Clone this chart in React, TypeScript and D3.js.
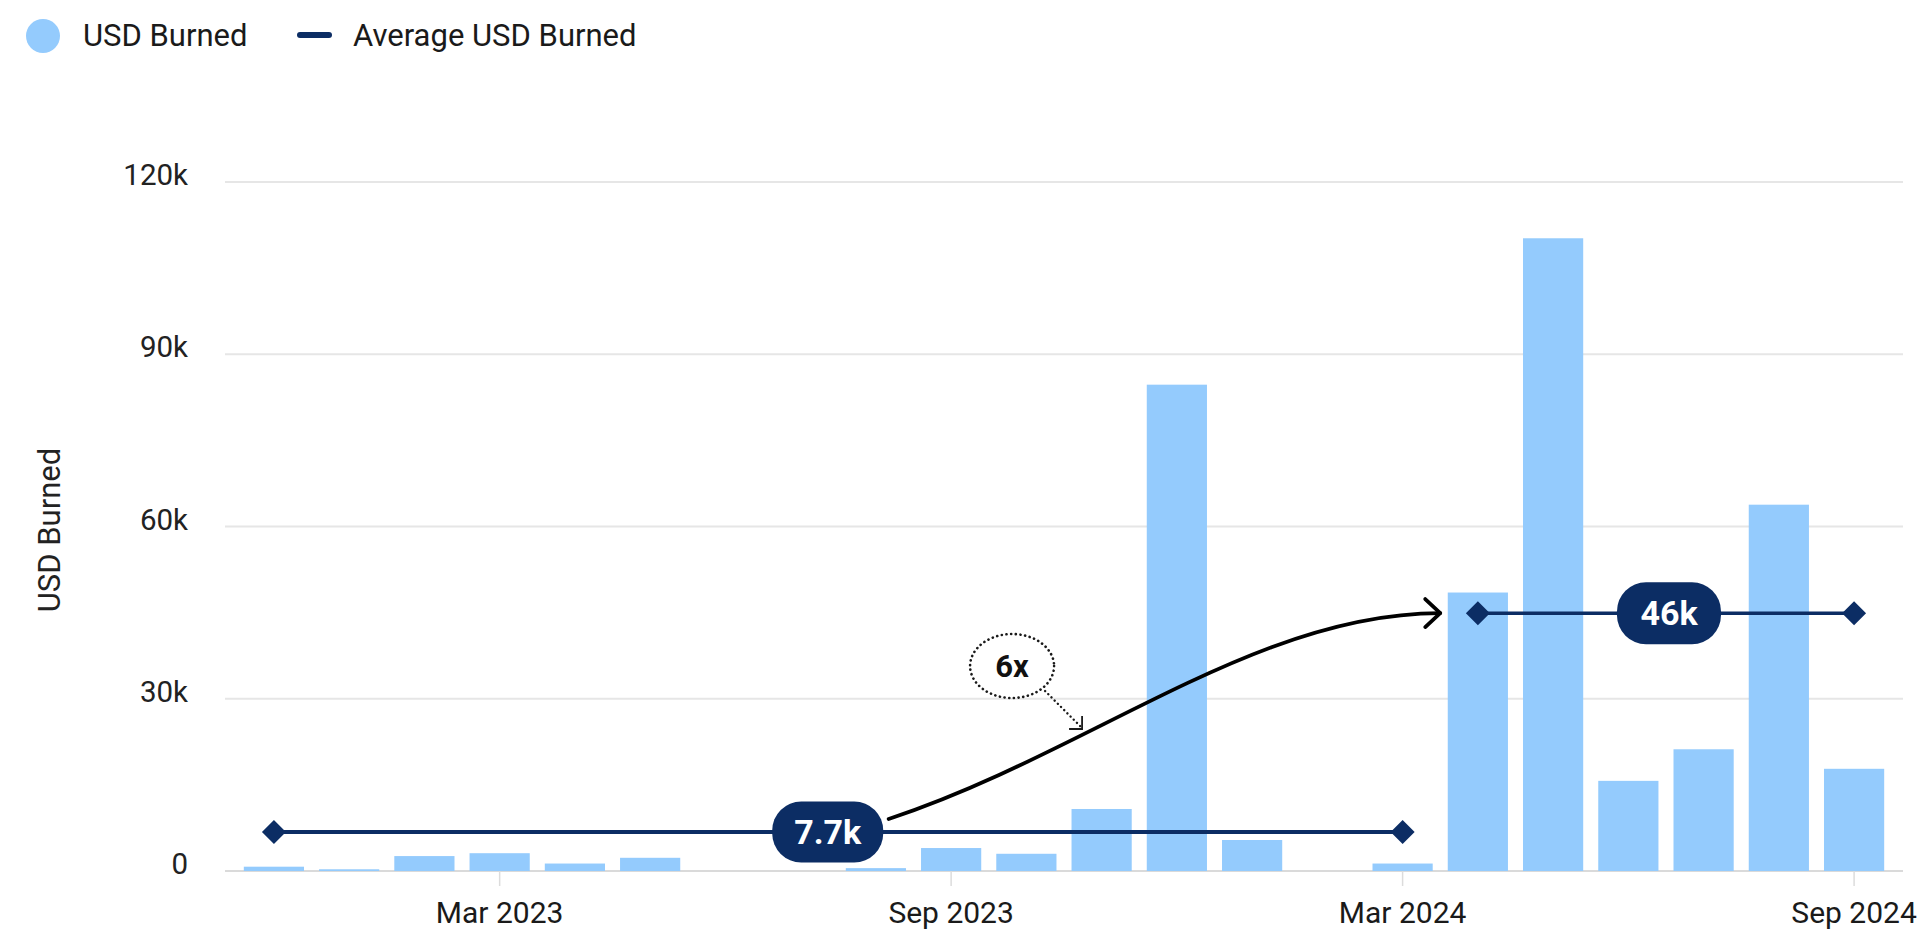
import React from "react";
import * as d3 from "d3";

const months = [
  "2022-12", "2023-01", "2023-02", "2023-03", "2023-04", "2023-05", "2023-06", "2023-07",
  "2023-08", "2023-09", "2023-10", "2023-11", "2023-12", "2024-01", "2024-02", "2024-03",
  "2024-04", "2024-05", "2024-06", "2024-07", "2024-08", "2024-09",
];
const usdBurned = [
  750, 300, 2600, 3100, 1300, 2300, 0, 0,
  500, 4000, 3000, 10800, 84700, 5400, 0, 1300,
  48500, 110200, 15700, 21200, 63800, 17800,
];
const yTicks = [0, 30000, 60000, 90000, 120000];
const xTickMonths = ["2023-03", "2023-09", "2024-03", "2024-09"];
const xTickLabels = ["Mar 2023", "Sep 2023", "Mar 2024", "Sep 2024"];

const avgStart = ["2022-12", "2024-04"];
const avgEnd = ["2024-03", "2024-09"];
const avgLineValue = [6800, 44900];
const avgLabels = ["7.7k", "46k"];
const ratioLabel = "6x";

const BAR = "#94cbfd";
const NAVY = "#0c2d64";
const FONT = "Roboto, 'Noto Sans', sans-serif";

export default function App() {
  const W = 1926;
  const H = 932;
  const x = d3
    .scaleBand<string>()
    .domain(months)
    .range([225, 1903])
    .paddingInner(0.2)
    .paddingOuter(0.25);
  const y = d3.scaleLinear().domain([0, 120000]).range([871, 182]);
  const bw = x.bandwidth();
  const step = x.step();
  const cx = (m: string) => (x(m) as number) + bw / 2;
  const fx = (i: number) => cx(months[0]) + i * step;
  const fmt = (v: number) => (v === 0 ? "0" : `${v / 1000}k`);

  // annotation anchors (month index, value)
  const pillPos = [7.36, 18.54];
  const pillW = [111, 104];
  const pillH = [61, 62];

  const p0 = [fx(8.17), y(9060)];
  const p1 = [fx(10.83), y(20550)];
  const p2 = [fx(13.04), y(44930)];
  const p3 = [fx(15.5), y(44930)];
  const curve = `M${p0[0]},${p0[1]} C${p1[0]},${p1[1]} ${p2[0]},${p2[1]} ${p3[0]},${p3[1]}`;
  const head = `M${p3[0] - 15},${p3[1] - 14} L${p3[0]},${p3[1]} L${p3[0] - 15},${p3[1] + 14}`;

  const ex = fx(9.81);
  const ey = y(35700);

  const diamond = (px: number, py: number, r = 12) =>
    `M${px},${py - r} L${px + r},${py} L${px},${py + r} L${px - r},${py} Z`;

  return (
    <svg
      width={W}
      height={H}
      style={{ position: "absolute", left: 0, top: 0, background: "#fff" }}
      fontFamily={FONT}
    >
      {/* legend */}
      <circle cx={43} cy={36} r={17} fill={BAR} />
      <text x={83} y={46} fontSize={31} fill="#1a1a1a">USD Burned</text>
      <line x1={300} x2={329} y1={35} y2={35} stroke={NAVY} strokeWidth={6} strokeLinecap="round" />
      <text x={353} y={46} fontSize={31} fill="#1a1a1a">Average USD Burned</text>

      {/* grid */}
      {yTicks.map((t) => (
        <g key={t}>
          <line
            x1={225}
            x2={1903}
            y1={y(t)}
            y2={y(t)}
            stroke={t === 0 ? "#dadada" : "#e6e6e6"}
            strokeWidth={2}
          />
          <text x={188} y={y(t) + 3} fontSize={29.5} textAnchor="end" fill="#222">
            {fmt(t)}
          </text>
        </g>
      ))}

      {/* y title */}
      <text
        transform={`translate(49,530) rotate(-90)`}
        textAnchor="middle"
        dy="0.35em"
        fontSize={31}
        fill="#222"
      >
        USD Burned
      </text>

      {/* x ticks */}
      {xTickMonths.map((m, i) => (
        <g key={m}>
          <line x1={cx(m)} x2={cx(m)} y1={y(0)} y2={y(0) + 15} stroke="#dcdcdc" strokeWidth={1.5} />
          <text x={cx(m)} y={923} fontSize={30} textAnchor="middle" fill="#1a1a1a">
            {xTickLabels[i]}
          </text>
        </g>
      ))}

      {/* bars */}
      {months.map((m, i) =>
        usdBurned[i] > 0 ? (
          <rect
            key={m}
            x={x(m)}
            y={y(usdBurned[i])}
            width={bw}
            height={y(0) - y(usdBurned[i])}
            fill={BAR}
          />
        ) : null
      )}

      {/* average lines */}
      {avgStart.map((s, i) => {
        const x1 = cx(s);
        const x2 = cx(avgEnd[i]);
        const yy = y(avgLineValue[i]);
        return (
          <g key={s}>
            <line x1={x1} x2={x2} y1={yy} y2={yy} stroke={NAVY} strokeWidth={i === 0 ? 4 : 3.4} />
            <path d={diamond(x1, yy)} fill={NAVY} />
            <path d={diamond(x2, yy)} fill={NAVY} />
          </g>
        );
      })}

      {/* pills */}
      {avgLabels.map((lab, i) => {
        const px = fx(pillPos[i]);
        const py = y(avgLineValue[i]);
        return (
          <g key={lab}>
            <rect
              x={px - pillW[i] / 2}
              y={py - pillH[i] / 2}
              width={pillW[i]}
              height={pillH[i]}
              rx={29}
              fill={NAVY}
            />
            <text
              x={px}
              y={py}
              dy="0.36em"
              textAnchor="middle"
              fontSize={34}
              fontWeight={700}
              fill="#fff"
            >
              {lab}
            </text>
          </g>
        );
      })}

      {/* curved arrow */}
      <path d={curve} fill="none" stroke="#000" strokeWidth={3.8} strokeLinecap="round" />
      <path d={head} fill="none" stroke="#000" strokeWidth={3.8} strokeLinecap="round" strokeLinejoin="round" />

      {/* 6x annotation */}
      <ellipse
        cx={ex}
        cy={ey}
        rx={42}
        ry={32}
        fill="#fff"
        stroke="#1a1a1a"
        strokeWidth={2.6}
        strokeDasharray="0.1 4.6"
        strokeLinecap="round"
      />
      <text x={ex} y={ey} dy="0.36em" textAnchor="middle" fontSize={31} fontWeight={700} fill="#111">
        {ratioLabel}
      </text>
      <line
        x1={ex + 33}
        y1={ey + 25}
        x2={ex + 70}
        y2={ey + 62}
        stroke="#1a1a1a"
        strokeWidth={2.4}
        strokeDasharray="0.1 4.4"
        strokeLinecap="round"
      />
      <path
        d={`M${ex + 57},${ey + 63} L${ex + 70},${ey + 63} L${ex + 70},${ey + 50}`}
        fill="none"
        stroke="#1a1a1a"
        strokeWidth={1.8}
      />
    </svg>
  );
}
